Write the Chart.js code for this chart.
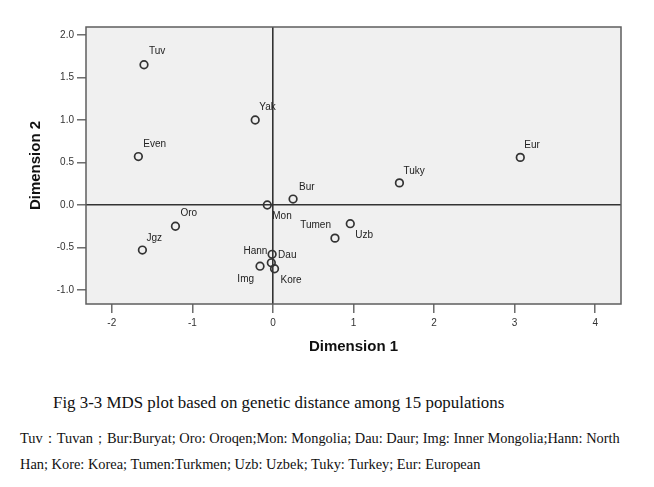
<!DOCTYPE html>
<html lang="en">
<head>
    <meta charset="UTF-8">
    <title>MDS plot</title>
    <script src="https://cdn.jsdelivr.net/npm/chart.js"></script>
    <style>
        body {
            margin: 0;
            background-color: #ffffff;
            width: 654px;
            height: 487px;
            position: relative;
            overflow: hidden;
        }
        .chart-container {
            position: absolute;
            left: 0;
            top: 0;
            width: 654px;
            height: 370px;
        }
        .caption {
            position: absolute;
            font-family: 'Liberation Serif', 'Times New Roman', serif;
            color: #111;
            white-space: nowrap;
        }
        #figTitle { left: 53px; top: 393px; font-size: 16.9px; }
        #note1 { left: 20px; top: 429px; font-size: 14.4px; }
        #note2 { left: 20px; top: 456px; font-size: 14.4px; }
    </style>
</head>
<body>
    <div class="chart-container">
        <canvas id="mdsChart" width="654" height="370"></canvas>
    </div>
    <div class="caption" id="figTitle">Fig 3-3 MDS plot based on genetic distance among 15 populations</div>
    <div class="caption" id="note1">Tuv：Tuvan；Bur:Buryat; Oro: Oroqen;Mon: Mongolia; Dau: Daur; Img: Inner Mongolia;Hann: North</div>
    <div class="caption" id="note2">Han; Kore: Korea; Tumen:Turkmen; Uzb: Uzbek; Tuky: Turkey; Eur: European</div>

    <script>
        // Populations and their MDS coordinates
        const populations = ['Tuv', 'Yak', 'Even', 'Eur', 'Tuky', 'Bur', 'Mon', 'Oro', 'Jgz', 'Uzb', 'Tumen', 'Dau', 'Hann', 'Img', 'Kore'];
        const dim1 = [-1.60, -0.22, -1.67, 3.07, 1.57, 0.25, -0.07, -1.21, -1.62, 0.96, 0.77, -0.01, -0.02, -0.16, 0.02];
        const dim2 = [1.65, 1.00, 0.57, 0.56, 0.26, 0.07, 0.00, -0.25, -0.53, -0.22, -0.39, -0.58, -0.68, -0.72, -0.75];

        const xTicks = [-2, -1, 0, 1, 2, 3, 4];
        const yTicks = [-1.0, -0.5, 0.0, 0.5, 1.0, 1.5, 2.0];

        // label placement next to each point: [dx, dy, align]
        const labelPlacement = [
            [5, -13, 'left'], [4, -13, 'left'], [5, -12, 'left'], [4, -12, 'left'], [4, -12, 'left'],
            [6, -12, 'left'], [5, 11, 'left'], [5, -13, 'left'], [4, -12, 'left'], [5, 12, 'left'],
            [-4, -13, 'right'], [6, 1, 'left'], [-4, -12, 'right'], [-6, 13, 'right'], [6, 12, 'left']
        ];

        const points = populations.map((p, i) => ({ x: dim1[i], y: dim2[i] }));

        // grey plot background and frame
        const plotFrame = {
            id: 'plotFrame',
            beforeDraw(chart) {
                const a = chart.chartArea;
                const c = chart.ctx;
                c.save();
                c.fillStyle = '#f0f0f0';
                c.fillRect(a.left, a.top, a.right - a.left, a.bottom - a.top);
                c.restore();
            },
            afterDraw(chart) {
                const a = chart.chartArea;
                const c = chart.ctx;
                c.save();
                c.strokeStyle = '#5e5e5e';
                c.lineWidth = 1.5;
                c.strokeRect(a.left, a.top, a.right - a.left, a.bottom - a.top);
                c.restore();
            }
        };

        // population names beside the circles
        const pointLabels = {
            id: 'pointLabels',
            afterDatasetsDraw(chart) {
                const c = chart.ctx;
                const meta = chart.getDatasetMeta(0);
                c.save();
                c.font = '10px "Liberation Sans", Arial, sans-serif';
                c.fillStyle = '#222';
                c.textBaseline = 'middle';
                meta.data.forEach((el, i) => {
                    const [dx, dy, align] = labelPlacement[i];
                    c.textAlign = align;
                    c.fillText(populations[i], el.x + dx, el.y + dy);
                });
                c.restore();
            }
        };

        const zeroLine = ctx => ctx.tick && ctx.tick.value === 0 ? '#333333' : 'rgba(0,0,0,0)';

        const ctx = document.getElementById('mdsChart').getContext('2d');
        new Chart(ctx, {
            type: 'scatter',
            data: {
                datasets: [{
                    data: points,
                    pointStyle: 'circle',
                    pointRadius: 3.8,
                    pointHoverRadius: 3.8,
                    pointBorderWidth: 1.7,
                    borderColor: '#333333',
                    backgroundColor: 'rgba(0,0,0,0)'
                }]
            },
            options: {
                responsive: false,
                animation: false,
                events: [],
                layout: { padding: { top: 27, right: 33, left: 0, bottom: 0 } },
                plugins: {
                    legend: { display: false },
                    tooltip: { enabled: false }
                },
                scales: {
                    x: {
                        type: 'linear',
                        min: -2.32,
                        max: 4.32,
                        afterBuildTicks: s => { s.ticks = xTicks.map(v => ({ value: v })); },
                        afterFit: s => { s.height = 66; },
                        grid: {
                            color: zeroLine,
                            lineWidth: 1.6,
                            tickColor: '#555555',
                            tickWidth: 1.3,
                            tickLength: 9,
                            drawOnChartArea: true
                        },
                        border: { display: false },
                        ticks: {
                            padding: 4,
                            color: '#333',
                            font: { family: '"Liberation Sans", Arial, sans-serif', size: 10 },
                            callback: v => String(v)
                        },
                        title: {
                            display: true,
                            text: 'Dimension 1',
                            color: '#111',
                            font: { family: '"Liberation Sans", Arial, sans-serif', size: 15, weight: 'bold' },
                            padding: { top: 0, bottom: 14 }
                        }
                    },
                    y: {
                        type: 'linear',
                        min: -1.165,
                        max: 2.094,
                        afterBuildTicks: s => { s.ticks = yTicks.map(v => ({ value: v })); },
                        afterFit: s => { s.width = 86; },
                        grid: {
                            color: zeroLine,
                            lineWidth: 1.6,
                            tickColor: '#555555',
                            tickWidth: 1.3,
                            tickLength: 9,
                            drawOnChartArea: true
                        },
                        border: { display: false },
                        ticks: {
                            padding: 3,
                            color: '#333',
                            font: { family: '"Liberation Sans", Arial, sans-serif', size: 10 },
                            callback: v => v.toFixed(1)
                        },
                        title: {
                            display: true,
                            text: 'Dimension 2',
                            color: '#111',
                            font: { family: '"Liberation Sans", Arial, sans-serif', size: 15, weight: 'bold' },
                            padding: { top: 27, bottom: 0 }
                        }
                    }
                }
            },
            plugins: [plotFrame, pointLabels]
        });
    </script>
</body>
</html>
